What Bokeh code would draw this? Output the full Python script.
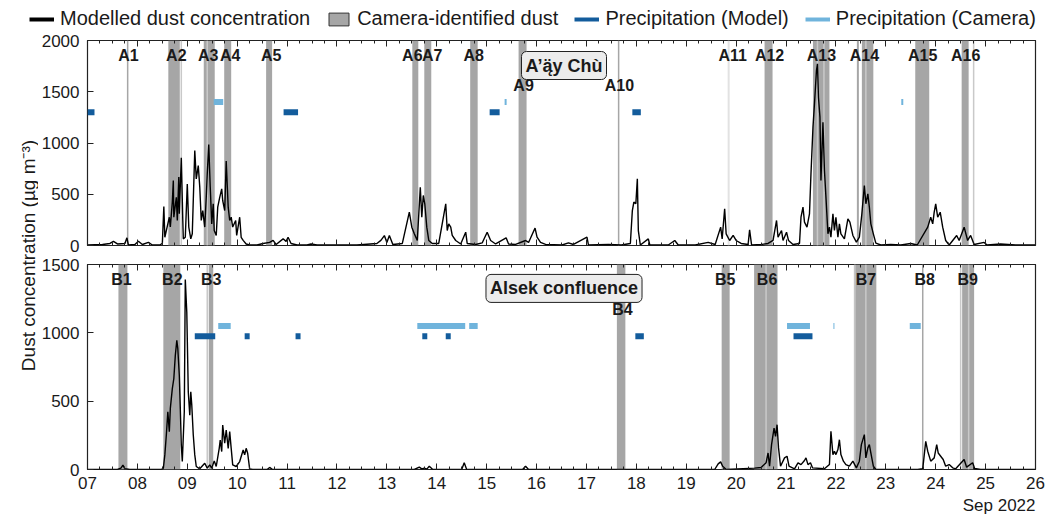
import math
from bokeh.plotting import figure
from bokeh.models import (Range1d, FixedTicker, LinearAxis, Legend, LegendItem, Label, Title)
from bokeh.layouts import row, column
from bokeh.embed import file_html
from bokeh.resources import INLINE
from bokeh.core.properties import value

FONT = "Liberation Sans"

# ---------------- data ----------------
days = list(range(7, 27))
day_labels = ["%02d" % d for d in days]
date_caption = "Sep 2022"

top_yticks = [0, 500, 1000, 1500, 2000]
bot_yticks = [0, 500, 1000, 1500]

# modelled dust concentration, A'ą̈y Chù (day of Sep 2022, ug m-3)
top_series = [
    (7.00, 5), (7.30, 10), (7.45, 20), (7.52, 40), (7.60, 15), (7.75, 20), (7.79, 75), (7.82, 5),
    (7.95, 10), (8.02, 42), (8.10, 10), (8.22, 30), (8.30, 5), (8.45, 5), (8.50, 20), (8.53, 380),
    (8.55, 80), (8.64, 276), (8.66, 180), (8.70, 423), (8.72, 634), (8.73, 276), (8.78, 470),
    (8.80, 244), (8.83, 667), (8.84, 309), (8.88, 855), (8.91, 244), (8.92, 65), (8.96, 80),
    (9.00, 600), (9.03, 180), (9.07, 65), (9.10, 114), (9.15, 927), (9.18, 650), (9.22, 780),
    (9.25, 570), (9.28, 244), (9.31, 341), (9.35, 180), (9.38, 470), (9.40, 700), (9.43, 985),
    (9.46, 570), (9.49, 211), (9.52, 406), (9.54, 146), (9.58, 98), (9.61, 374), (9.65, 470),
    (9.69, 553), (9.71, 439), (9.75, 341), (9.78, 823), (9.82, 374), (9.85, 244), (9.88, 276),
    (9.91, 180), (9.97, 244), (9.99, 98), (10.05, 276), (10.08, 80), (10.12, 50), (10.18, 15),
    (10.25, 5), (10.40, 5), (10.52, 20), (10.65, 30), (10.72, 50), (10.78, 10), (10.92, 65),
    (10.98, 40), (11.02, 80), (11.08, 20), (11.20, 5), (11.40, 5), (11.48, 15), (11.60, 5),
    (12.00, 5), (12.40, 5), (12.80, 20), (12.88, 50), (12.95, 97), (13.00, 30), (13.05, 98),
    (13.12, 10), (13.31, 20), (13.45, 325), (13.50, 179), (13.55, 114), (13.61, 49), (13.67, 569),
    (13.70, 276), (13.73, 488), (13.76, 407), (13.80, 179), (13.84, 49), (13.91, 20), (14.04, 20),
    (14.18, 407), (14.21, 146), (14.24, 211), (14.28, 179), (14.31, 98), (14.38, 49), (14.48, 15),
    (14.58, 130), (14.61, 20), (14.78, 10), (14.91, 25), (15.01, 130), (15.08, 49), (15.18, 15),
    (15.39, 75), (15.44, 15), (15.58, 10), (15.78, 49), (15.84, 30), (15.97, 170), (16.01, 81),
    (16.08, 30), (16.18, 10), (16.51, 5), (16.64, 25), (16.74, 10), (17.01, 81), (17.04, 5),
    (17.44, 10), (17.70, 5), (17.88, 20), (17.92, 341), (17.95, 423), (17.99, 407), (18.02, 650),
    (18.04, 146), (18.08, 5), (18.24, 65), (18.27, 5), (18.64, 5), (18.77, 49), (18.84, 5),
    (19.18, 5), (19.44, 30), (19.58, 10), (19.69, 179), (19.72, 65), (19.77, 358), (19.80, 114),
    (19.87, 49), (19.94, 98), (20.00, 49), (20.10, 20), (20.24, 10), (20.27, 153), (20.31, 5),
    (20.51, 10), (20.64, 20), (20.74, 50), (20.81, 244), (20.84, 81), (20.91, 146), (20.94, 49),
    (21.01, 130), (21.05, 49), (21.14, 10), (21.27, 20), (21.30, 276), (21.34, 374), (21.37, 228),
    (21.42, 179), (21.47, 309), (21.50, 700), (21.54, 1155), (21.57, 1382), (21.61, 1707),
    (21.63, 1772), (21.65, 1447), (21.68, 1252), (21.70, 634), (21.74, 1203), (21.77, 732),
    (21.80, 472), (21.84, 114), (21.87, 179), (21.90, 81), (21.94, 309), (21.97, 146), (22.00, 276),
    (22.04, 81), (22.07, 211), (22.10, 114), (22.17, 65), (22.24, 260), (22.28, 228), (22.34, 98),
    (22.41, 33), (22.47, 81), (22.52, 309), (22.57, 585), (22.60, 407), (22.64, 504), (22.67, 374),
    (22.70, 211), (22.75, 114), (22.80, 23), (22.90, 5), (23.10, 10), (23.30, 5), (23.50, 20),
    (23.63, 5), (23.84, 179), (23.90, 276), (23.94, 211), (23.97, 325), (24.00, 407), (24.04, 276),
    (24.09, 325), (24.14, 179), (24.20, 49), (24.27, 5), (24.42, 98), (24.47, 49), (24.57, 179),
    (24.64, 49), (24.70, 98), (24.77, 10), (24.97, 30), (25.03, 5), (25.30, 15), (25.60, 5),
    (25.95, 5), (26.00, 5),
]

# modelled dust concentration, Alsek confluence
bot_series = [
    (7.00, 0), (7.60, 0), (7.67, 10), (7.71, 32), (7.75, 5), (7.85, 0), (8.48, 0), (8.52, 10),
    (8.55, 107), (8.58, 252), (8.61, 422), (8.64, 277), (8.66, 447), (8.70, 592), (8.73, 665),
    (8.76, 835), (8.79, 945), (8.81, 884), (8.84, 690), (8.86, 447), (8.88, 180), (8.90, 58),
    (8.94, 422), (8.96, 1390), (8.99, 1151), (9.02, 568), (9.05, 398), (9.07, 568), (9.09, 471),
    (9.12, 252), (9.15, 107), (9.18, 22), (9.25, 5), (9.35, 46), (9.40, 10), (9.45, 34), (9.49, 10),
    (9.54, 63), (9.58, 22), (9.64, 155), (9.66, 216), (9.69, 131), (9.71, 325), (9.75, 192),
    (9.78, 289), (9.82, 155), (9.85, 277), (9.88, 155), (9.91, 34), (9.98, 22), (10.05, 58),
    (10.12, 143), (10.15, 107), (10.18, 155), (10.21, 119), (10.25, 5), (10.31, 0), (10.60, 0),
    (10.65, 15), (10.71, 0), (13.55, 0), (13.65, 17), (13.70, 5), (13.75, 10), (13.80, 3),
    (13.85, 24), (13.92, 0), (14.50, 0), (14.55, 49), (14.60, 0), (15.72, 0), (15.78, 24),
    (15.84, 0), (19.57, 0), (19.64, 41), (19.69, 56), (19.73, 24), (19.80, 0), (20.37, 10),
    (20.50, 15), (20.60, 49), (20.64, 121), (20.67, 24), (20.71, 182), (20.76, 303), (20.79, 243),
    (20.82, 328), (20.85, 158), (20.89, 24), (20.97, 85), (21.02, 97), (21.06, 24), (21.17, 5),
    (21.24, 49), (21.30, 36), (21.37, 66), (21.40, 85), (21.44, 36), (21.49, 49), (21.53, 12),
    (21.77, 5), (21.87, 36), (21.90, 279), (21.94, 109), (21.97, 134), (22.00, 109), (22.04, 146),
    (22.07, 218), (22.10, 109), (22.15, 61), (22.20, 36), (22.27, 24), (22.34, 61), (22.41, 12),
    (22.47, 61), (22.51, 182), (22.57, 255), (22.60, 85), (22.64, 158), (22.67, 182), (22.70, 121),
    (22.75, 24), (22.80, 0), (23.64, 0), (23.74, 5), (23.80, 206), (23.84, 134), (23.90, 61),
    (23.97, 85), (24.02, 182), (24.05, 121), (24.10, 97), (24.15, 73), (24.20, 24), (24.27, 36),
    (24.34, 12), (24.40, 5), (24.57, 73), (24.62, 17), (24.74, 49), (24.78, 7), (24.90, 0),
    (26.00, 0),
]

# camera-identified dust periods (start, end) in days
top_dust_start = [7.79, 8.62, 9.33, 9.74, 10.58, 13.51, 13.75, 14.67, 15.64, 17.63, 20.57, 21.54, 22.42, 22.52, 23.59, 24.52]
top_dust_end   = [7.82, 8.85, 9.55, 9.88, 10.70, 13.63, 13.89, 14.82, 15.80, 17.66, 20.73, 21.87, 22.46, 22.75, 23.87, 24.66]
top_dust_faint = [8.88, 9.40, 21.63, 21.76, 22.60, 24.76]
top_dust_pale = [19.85]
top_event_names = ["A1", "A2", "A3", "A4", "A5", "A6", "A7", "A8", "A9", "A10", "A11", "A12", "A13", "A14", "A15", "A16"]
top_event_x = [7.82, 8.78, 9.42, 9.86, 10.68, 13.51, 13.91, 14.74, 15.74, 17.66, 19.93, 20.67, 21.71, 22.57, 23.74, 24.60]
top_event_row = [0, 0, 0, 0, 0, 0, 0, 0, 1, 1, 0, 0, 0, 0, 0, 0]

bot_dust_start = [7.62, 8.52, 9.43, 17.61, 19.71, 20.36, 22.36, 23.725, 24.53]
bot_dust_end   = [7.80, 8.86, 9.52, 17.78, 19.87, 20.83, 22.81, 23.755, 24.77]
bot_dust_faint = [9.40, 20.60, 22.38, 22.60, 24.50, 24.66]
bot_event_names = ["B1", "B2", "B3", "B4", "B5", "B6", "B7", "B8", "B9"]
bot_event_x = [7.68, 8.70, 9.48, 17.72, 19.78, 20.62, 22.60, 23.78, 24.64]
bot_event_row = [0, 0, 0, 1, 0, 0, 0, 0, 0]

# precipitation periods
top_pm_start = [7.00, 10.93, 15.06, 17.92]
top_pm_end   = [7.14, 11.22, 15.26, 18.09]
top_pc_start = [9.53, 15.36, 23.31]
top_pc_end   = [9.72, 15.40, 23.35]
bot_pm_start = [9.15, 10.15, 11.17, 13.71, 14.18, 17.98, 21.15]
bot_pm_end   = [9.56, 10.25, 11.27, 13.81, 14.28, 18.15, 21.53]
bot_pc_start = [9.62, 13.61, 14.65, 21.02, 21.95, 23.48]
bot_pc_end   = [9.87, 14.57, 14.82, 21.48, 21.97, 23.70]

legend_labels = ["Modelled dust concentration", "Camera-identified dust",
                 "Precipitation (Model)", "Precipitation (Camera)"]

TOP_MAX, BOT_MAX = 2000, 1500
TOP_PM_LEVEL, TOP_PC_LEVEL = 1300, 1400
BOT_PM_LEVEL, BOT_PC_LEVEL = 975, 1050

# ---------------- styles ----------------
C_DUST = "#a6a6a6"
C_FAINT = "#c9c9c9"
C_PALE = "#e2e2e2"
C_PM = "#135c9c"
C_PC = "#70b4dc"
TXT = "#1a1a1a"


def style_axes(p, yticks, show_xlabels):
    minor = [7 + i / 4 for i in range(0, 19 * 4 + 1)]
    bottom_ax = p.below[0]
    bottom_ax.ticker = FixedTicker(ticks=days, minor_ticks=minor)
    top_ax = LinearAxis(ticker=FixedTicker(ticks=days, minor_ticks=minor))
    p.add_layout(top_ax, "above")
    for ax in (bottom_ax, top_ax):
        ax.axis_line_color = None
        ax.major_tick_in = 6
        ax.major_tick_out = 0
        ax.minor_tick_in = 3
        ax.minor_tick_out = 0
        ax.major_tick_line_color = "#222222"
        ax.minor_tick_line_color = "#222222"
    top_ax.major_label_overrides = {d: "" for d in days}
    top_ax.major_label_standoff = 0
    if show_xlabels:
        bottom_ax.major_label_overrides = {d: l for d, l in zip(days, day_labels)}
        bottom_ax.major_label_text_font = FONT
        bottom_ax.major_label_text_font_size = "17px"
        bottom_ax.major_label_text_color = TXT
        bottom_ax.major_label_standoff = 7
    else:
        bottom_ax.major_label_overrides = {d: "" for d in days}
        bottom_ax.major_label_standoff = 0
    left_ax = p.left[0]
    left_ax.ticker = FixedTicker(ticks=yticks)
    left_ax.axis_line_color = None
    left_ax.major_tick_in = 6
    left_ax.major_tick_out = 0
    left_ax.minor_tick_line_color = None
    left_ax.major_tick_line_color = "#222222"
    left_ax.major_label_text_font = FONT
    left_ax.major_label_text_font_size = "17px"
    left_ax.major_label_text_color = TXT
    left_ax.major_label_standoff = 8
    p.xgrid.visible = False
    p.ygrid.visible = False
    p.outline_line_color = "#222222"
    p.outline_line_width = 1.2


def make_panel(height, top_b, bot_b, ymax, yticks, show_xlabels):
    p = figure(width=1007, height=height, x_range=Range1d(7, 26), y_range=Range1d(0, ymax),
               output_backend="svg", toolbar_location=None,
               min_border_left=46, min_border_right=10, min_border_top=top_b,
               min_border_bottom=bot_b)
    p.background_fill_color = "white"
    p.border_fill_color = "white"
    style_axes(p, yticks, show_xlabels)
    return p


def draw_panel(p, series, d_start, d_end, faint, pale, pm_s, pm_e, pc_s, pc_e,
               pm_level, pc_level, ymax, names, ex, erow, station, station_y):
    p.quad(left=d_start, right=d_end, bottom=[0] * len(d_start), top=[ymax] * len(d_start),
           fill_color=C_DUST, line_color=None)
    p.segment(x0=faint, x1=faint, y0=[0] * len(faint), y1=[ymax] * len(faint),
              line_color=C_FAINT, line_width=1.5)
    if pale:
        p.segment(x0=pale, x1=pale, y0=[0] * len(pale), y1=[ymax] * len(pale),
                  line_color=C_PALE, line_width=2)
    t = [s[0] for s in series]
    v = [s[1] for s in series]
    p.line(t, v, line_color="black", line_width=1.4)
    p.segment(x0=pm_s, x1=pm_e, y0=[pm_level] * len(pm_s), y1=[pm_level] * len(pm_s),
              line_color=C_PM, line_width=6)
    p.segment(x0=pc_s, x1=pc_e, y0=[pc_level] * len(pc_s), y1=[pc_level] * len(pc_s),
              line_color=C_PC, line_width=6)
    ey = [ymax * (0.925 if r == 0 else 0.78) for r in erow]
    p.text(x=ex, y=ey, text=names, text_font=value(FONT), text_font_style="bold",
           text_font_size="16px", text_align="center", text_baseline="middle",
           text_color=TXT)
    p.add_layout(Label(x=16.55, y=station_y, text=station, text_font=FONT,
                       text_font_style="bold", text_font_size="18px", text_align="center",
                       text_baseline="middle", text_color=TXT,
                       background_fill_color="#ececec", border_line_color="#222222",
                       border_line_width=1, border_radius=5, padding=4))


top = make_panel(225, 10, 10, TOP_MAX, top_yticks, False)
bot = make_panel(261, 9, 46, BOT_MAX, bot_yticks, True)

draw_panel(top, top_series, top_dust_start, top_dust_end, top_dust_faint,
           top_dust_pale, top_pm_start, top_pm_end, top_pc_start, top_pc_end,
           TOP_PM_LEVEL, TOP_PC_LEVEL, TOP_MAX, top_event_names, top_event_x,
           top_event_row, "A\u2019\u0105\u0308y Ch\u00f9", 1756)
draw_panel(bot, bot_series, bot_dust_start, bot_dust_end, bot_dust_faint, [],
           bot_pm_start, bot_pm_end, bot_pc_start, bot_pc_end, BOT_PM_LEVEL, BOT_PC_LEVEL,
           BOT_MAX, bot_event_names, bot_event_x, bot_event_row, "Alsek confluence", 1325)

# legend strip (keys only; key glyphs sit outside the strip's visible range)
leg = figure(width=1045, height=30, x_range=Range1d(0, 1), y_range=Range1d(0, 1),
             output_backend="svg", toolbar_location=None, min_border=0)
leg.axis.visible = False
leg.xgrid.visible = False
leg.ygrid.visible = False
leg.outline_line_color = None
k_line = leg.line(x=[-3, -2], y=[-3, -3], line_color="black", line_width=4)
k_box = leg.quad(left=[-3], right=[-2], top=[-2], bottom=[-3], fill_color=C_DUST,
                 line_color="#333333", line_width=1)
k_pm = leg.line(x=[-3, -2], y=[-3, -3], line_color=C_PM, line_width=4)
k_pc = leg.line(x=[-3, -2], y=[-3, -3], line_color=C_PC, line_width=4)
legend = Legend(items=[LegendItem(label=lbl, renderers=[r]) for lbl, r in
                       zip(legend_labels, [k_line, k_box, k_pm, k_pc])],
                location=(29, 0), orientation="horizontal")
legend.label_text_font = FONT
legend.label_text_font_size = "20px"
legend.label_text_color = TXT
legend.glyph_width = 25
legend.glyph_height = 16
legend.label_standoff = 6
legend.spacing = 16
legend.padding = 0
legend.margin = 0
legend.background_fill_alpha = 0
legend.border_line_color = None
leg.add_layout(legend)

bot.add_layout(Title(text=date_caption, align="right", text_font=FONT, text_font_size="17px",
                     text_font_style="normal", text_color=TXT, standoff=4), "below")

lab = figure(width=38, height=486, x_range=Range1d(0, 1), y_range=Range1d(0, 1),
             output_backend="svg", toolbar_location=None, min_border=0)
lab.axis.visible = False
lab.xgrid.visible = False
lab.ygrid.visible = False
lab.outline_line_color = None
lab.add_layout(Label(x=28, y=261, x_units="screen", y_units="screen",
                     text="Dust concentration (\u00b5g m\u207b\u00b3)", angle=math.pi / 2,
                     text_font=FONT, text_font_size="19px", text_align="center",
                     text_baseline="middle", text_color=TXT))

layout = column(leg, row(lab, column(top, bot, spacing=0), spacing=0), spacing=0)
open("out.html", "w").write(file_html(layout, INLINE))
